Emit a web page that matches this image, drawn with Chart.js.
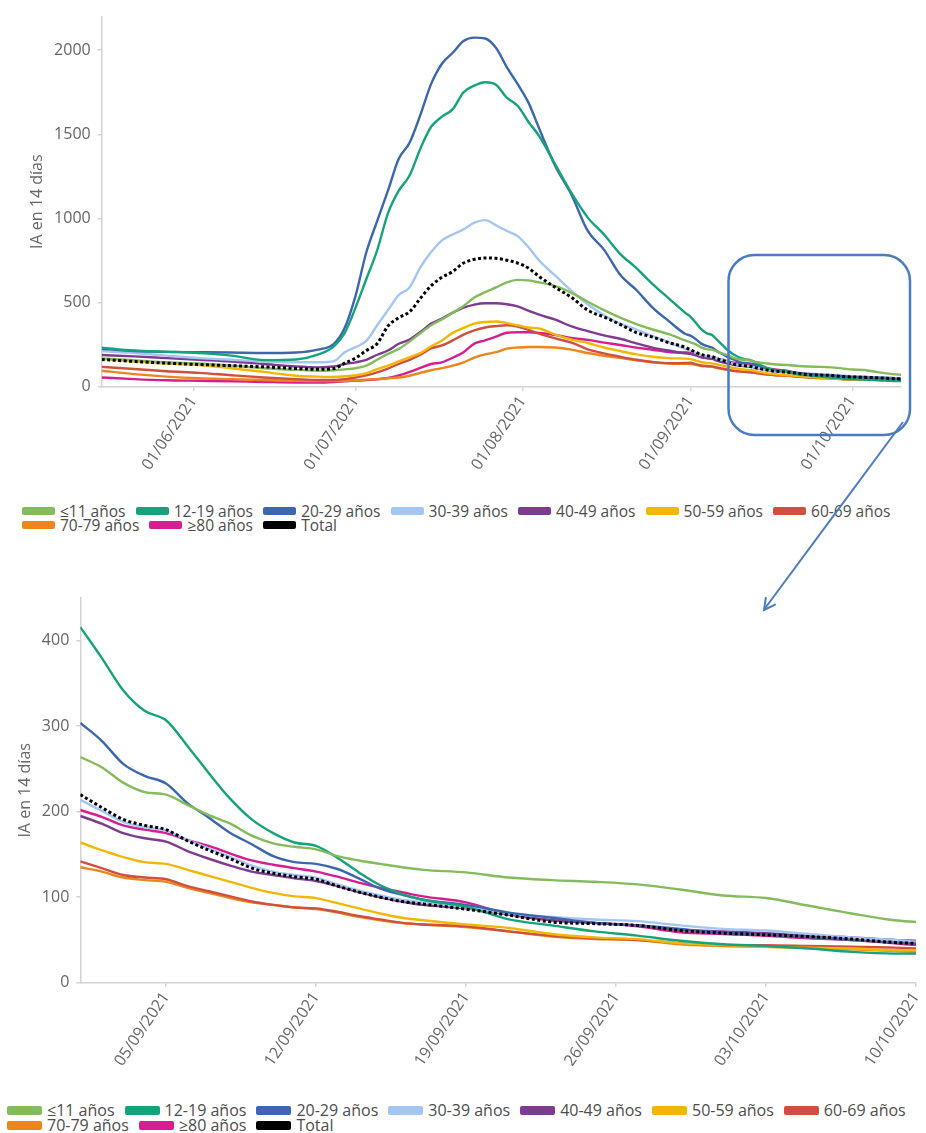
<!DOCTYPE html>
<html>
<head>
<meta charset="utf-8">
<script src="https://cdn.jsdelivr.net/npm/chart.js@4/dist/chart.umd.min.js"></script>
<style>
html,body{margin:0;padding:0;background:#fff;}
#page{position:relative;width:926px;height:1133px;overflow:hidden;background:#fff;}
canvas{position:absolute;left:0;}
#topCanvas{top:0;}
#botCanvas{top:560px;}
.legend{position:absolute;color:#4d4d4d;white-space:nowrap;}
.legend .row{display:flex;align-items:center;}
.legend .item{display:flex;align-items:center;}
.legend .sw{display:inline-block;border-radius:2px;}
#legendTop{left:22px;top:504px;font-family:'Open Sans',sans-serif;font-size:15.5px;}
#legendTop .row{height:14px;line-height:14px;}
#legendTop .sw{width:33px;height:8px;margin-right:5px;}
#legendTop .item{margin-right:10.2px;}
#legendBot{left:7px;top:1103px;font-family:'Open Sans',sans-serif;font-size:16px;}
#legendBot .row{height:15px;line-height:15px;}
#legendBot .sw{width:35px;height:9px;margin-right:5px;}
#legendBot .item{margin-right:10px;}
svg{position:absolute;left:0;top:0;z-index:5;}
</style>
</head>
<body>
<div id="page">
<canvas id="topCanvas" width="926" height="490"></canvas>
<canvas id="botCanvas" width="926" height="530"></canvas>
<div id="legendTop" class="legend"></div>
<div id="legendBot" class="legend"></div>
<svg width="926" height="1133">
  <rect x="728.5" y="255" width="181.5" height="180" rx="26" ry="26" fill="none" stroke="#4a7bc3" stroke-width="2.5"/>
  <line x1="903" y1="422" x2="764.5" y2="609" stroke="#4a7bc3" stroke-width="2"/>
  <polyline points="765.9,597.1 764,610 775.7,604.3" fill="none" stroke="#4a7bc3" stroke-width="2"/>
</svg>
</div>
<script>
// ---------- categories ----------
const ageGroups = ['≤11 años','12-19 años','20-29 años','30-39 años','40-49 años','50-59 años','60-69 años','70-79 años','≥80 años','Total'];
const seriesColors = ['#84bb5c','#16a37c','#3c67ae','#a3c6f2','#7d3c90','#f2b705','#d0503f','#ea861b','#d61e91','#000000'];

// ---------- overview period (15/05 - 31/08) ----------
const overviewDates = ['15/05/2021','21/05/2021','27/05/2021','02/06/2021','08/06/2021','14/06/2021','20/06/2021',
  '24/06/2021','27/06/2021','29/06/2021',
  '01/07/2021','03/07/2021','05/07/2021','07/07/2021','09/07/2021','11/07/2021','13/07/2021','15/07/2021','17/07/2021',
  '19/07/2021','21/07/2021','23/07/2021','25/07/2021','27/07/2021','29/07/2021','31/07/2021','02/08/2021','04/08/2021',
  '07/08/2021','10/08/2021','13/08/2021','16/08/2021','19/08/2021','22/08/2021','25/08/2021','28/08/2021','31/08/2021'];
const overviewTicks = ['01/06/2021','01/07/2021','01/08/2021','01/09/2021','01/10/2021'];
const overviewYTicks = [0,500,1000,1500,2000];

const ovLe11  = [168,158,145,138,125,110,100, 95,98,103, 110,125,160,195,225,268,318,365,400,440,480,530,562,590,620,635,632,620, 598,558,505,455,410,372,340,312,275];
const ov12_19 = [232,215,208,200,185,158,162, 190,240,320, 470,640,810,1030,1165,1255,1415,1545,1605,1650,1750,1790,1810,1795,1718,1670,1575,1490, 1320,1150,1005,905,790,705,610,525,440];
const ov20_29 = [225,212,207,205,203,200,203, 220,255,350, 540,799,984,1165,1355,1450,1615,1800,1920,1985,2055,2075,2070,2015,1900,1800,1690,1535, 1310,1140,926,815,665,575,470,390,315];
const ov30_39 = [212,200,185,170,160,150,145, 145,152,205, 235,272,365,455,545,590,709,800,870,905,935,975,990,960,926,895,830,750, 660,570,490,425,375,340,300,265,225];
const ov40_49 = [188,180,170,160,150,135,120, 115,120,135, 145,160,190,215,255,280,325,375,405,440,470,488,496,496,490,477,452,428, 398,358,330,305,285,258,232,215,198];
const ov50_59 = [165,150,138,128,110,88,65, 60,58,62, 68,80,105,125,150,175,200,240,275,320,350,375,385,388,378,365,352,346, 310,280,260,233,212,192,178,170,167];
const ov60_69 = [118,105,92,82,68,55,45, 40,40,45, 55,68,85,108,135,160,190,228,245,275,310,335,352,360,365,358,338,315, 287,262,222,198,178,160,147,140,141];
const ov70_79 = [95,75,60,50,45,40,35, 33,33,35, 38,42,45,50,55,65,82,98,110,125,145,173,192,205,226,233,236,236, 233,220,200,184,171,157,145,138,136];
const ovGe80  = [55,45,38,35,32,28,25, 25,28,32, 36,39,44,52,67,88,112,135,145,172,205,256,276,298,321,324,324,320, 307,290,278,262,248,232,220,206,203];
const ovTotal = [162,150,140,132,125,118,108, 103,108,140, 170,215,256,360,410,445,525,600,650,685,735,757,765,763,752,735,705,655, 590,530,455,414,370,322,295,262,235];

// ---------- detail period (01/09 - 10/10) ----------
const detailDates = ['01/09/2021','02/09/2021','03/09/2021','04/09/2021','05/09/2021','06/09/2021','07/09/2021','08/09/2021',
  '09/09/2021','10/09/2021','11/09/2021','12/09/2021','13/09/2021','14/09/2021','15/09/2021','16/09/2021','17/09/2021',
  '19/09/2021','21/09/2021','23/09/2021','25/09/2021','27/09/2021','29/09/2021','01/10/2021','03/10/2021','05/10/2021',
  '07/10/2021','09/10/2021','10/10/2021'];
const detailTicks = ['05/09/2021','12/09/2021','19/09/2021','26/09/2021','03/10/2021','10/10/2021'];
const detailYTicks = [0,100,200,300,400];

const dtLe11  = [264,252,234,223,220,208,196,186,172,163,159,156,148,143,139,135,132, 129,123,120,118,115,109,102,99,90,81,73, 71];
const dt12_19 = [416,380,342,318,307,277,245,215,191,175,164,160,146,129,114,104,97, 89,74,67,60,55,49,45,43,40,36,34, 34];
const dt20_29 = [304,283,256,242,233,210,193,175,162,148,141,139,133,122,110,103,97, 91,82,76,70,67,63,58,56,53,50,47, 46];
const dt30_39 = [214,201,188,182,178,167,157,147,137,130,126,123,115,108,102,97,94, 88,81,77,74,72,67,63,61,57,53,50, 48];
const dt40_49 = [195,186,175,169,165,154,145,137,130,126,122,119,113,106,100,95,91, 87,80,73,70,67,62,60,58,55,53,50, 49];
const dt50_59 = [164,155,147,141,139,132,125,118,111,105,101,99,93,87,81,76,73, 68,64,57,53,51,46,44,42,41,40,38, 38];
const dt60_69 = [142,134,126,123,121,113,107,101,95,91,88,87,83,78,74,70,68, 66,60,55,52,50,46,44,44,43,42,41, 40];
const dt70_79 = [135,130,123,120,118,111,105,99,94,91,88,86,82,77,73,70,68, 65,60,54,51,50,45,43,42,41,39,37, 36];
const dtGe80  = [202,194,184,179,175,167,160,151,143,138,134,130,124,117,111,106,101, 94,80,73,70,66,59,57,55,52,50,46, 44];
const dtTotal = [220,205,191,184,179,166,155,145,134,128,124,121,113,106,100,95,92, 86,79,71,69,67,61,58,56,54,51,47, 46];

const overviewSeries = [ovLe11,ov12_19,ov20_29,ov30_39,ov40_49,ov50_59,ov60_69,ov70_79,ovGe80,ovTotal];
const detailSeries = [dtLe11,dt12_19,dt20_29,dt30_39,dt40_49,dt50_59,dt60_69,dt70_79,dtGe80,dtTotal];

// ---------- helpers ----------
function toDay(s){ const p = s.split('/'); return Math.round(Date.UTC(+p[2], +p[1]-1, +p[0]) / 86400000); }
const ovStart = toDay(overviewDates[0]);
const dtStart = toDay(detailDates[0]);
const dtEnd = toDay(detailDates[detailDates.length-1]);

const FONT = "'Open Sans', sans-serif";
const AXIS_COLOR = '#d3d3d3';
const TEXT_COLOR = '#666666';

function makeDatasets(startDay, includeOverview){
  return ageGroups.map((name, i) => {
    let pts = [];
    if (includeOverview) pts = overviewDates.map((d,k) => ({x: toDay(d) - startDay, y: overviewSeries[i][k]}));
    pts = pts.concat(detailDates.map((d,k) => ({x: toDay(d) - startDay, y: detailSeries[i][k]})));
    const isTotal = name === 'Total';
    return {
      label: name,
      data: pts,
      borderColor: seriesColors[i],
      backgroundColor: seriesColors[i],
      borderWidth: isTotal ? 3 : 2.4,
      borderDash: isTotal ? [3, 2.5] : [],
      pointRadius: 0,
      cubicInterpolationMode: 'monotone',
      fill: false,
      order: isTotal ? 0 : 1
    };
  });
}

function makeOptions(cfg){
  return {
    responsive: false,
    animation: false,
    events: [],
    layout: { padding: cfg.padding },
    plugins: { legend: { display: false }, tooltip: { enabled: false } },
    scales: {
      x: {
        type: 'linear', min: cfg.xMin, max: cfg.xMax,
        afterBuildTicks: s => { s.ticks = cfg.xTicks.map(t => ({ value: toDay(t) - cfg.startDay })); },
        afterFit: s => { s.height = cfg.xHeight; s.paddingLeft = 0; s.paddingRight = 0; },
        ticks: {
          autoSkip: false, minRotation: 56, maxRotation: 56, padding: 2,
          color: TEXT_COLOR, font: { family: FONT, size: 16 },
          callback: (v, idx) => cfg.xTicks[idx]
        },
        grid: { drawOnChartArea: false, drawTicks: true, tickLength: 4, color: AXIS_COLOR, lineWidth: 1.5 },
        border: { display: true, color: AXIS_COLOR, width: 1.5 }
      },
      y: {
        min: 0, max: cfg.yMax,
        afterBuildTicks: s => { s.ticks = cfg.yTicks.map(v => ({ value: v })); },
        afterFit: s => { s.width = cfg.yWidth; },
        ticks: { padding: 7, color: TEXT_COLOR, font: { family: FONT, size: 16 }, callback: v => String(v) },
        title: { display: true, text: 'IA en 14 días', color: TEXT_COLOR, font: { family: FONT, size: 16 }, padding: { top: cfg.titlePad, bottom: 0 } },
        grid: { drawOnChartArea: false, drawTicks: true, tickLength: 4, color: AXIS_COLOR, lineWidth: 1.5 },
        border: { display: true, color: AXIS_COLOR, width: 1.5 }
      }
    }
  };
}

new Chart(document.getElementById('topCanvas'), {
  type: 'line',
  data: { datasets: makeDatasets(ovStart, true) },
  options: makeOptions({
    padding: { top: 14, right: 25, bottom: 0, left: 0 },
    xMin: 0, xMax: dtEnd - ovStart, startDay: ovStart, xTicks: overviewTicks, xHeight: 103.3,
    yMax: 2200, yTicks: overviewYTicks, yWidth: 101.7, titlePad: 28
  })
});

new Chart(document.getElementById('botCanvas'), {
  type: 'line',
  data: { datasets: makeDatasets(dtStart, false) },
  options: makeOptions({
    padding: { top: 38, right: 10, bottom: 0, left: 0 },
    xMin: 0, xMax: dtEnd - dtStart, startDay: dtStart, xTicks: detailTicks, xHeight: 530 - 422.7,
    yMax: 450, yTicks: detailYTicks, yWidth: 80.3, titlePad: 16
  })
});

// ---------- HTML legends ----------
function buildLegend(el){
  const rows = [ageGroups.slice(0,7), ageGroups.slice(7)];
  rows.forEach((r, ri) => {
    const row = document.createElement('div'); row.className = 'row';
    r.forEach((name, j) => {
      const i = ri === 0 ? j : j + 7;
      const it = document.createElement('span'); it.className = 'item';
      const sw = document.createElement('span'); sw.className = 'sw'; sw.style.background = seriesColors[i];
      const tx = document.createElement('span'); tx.textContent = name;
      it.appendChild(sw); it.appendChild(tx); row.appendChild(it);
    });
    el.appendChild(row);
  });
}
buildLegend(document.getElementById('legendTop'));
buildLegend(document.getElementById('legendBot'));
</script>
</body>
</html>
